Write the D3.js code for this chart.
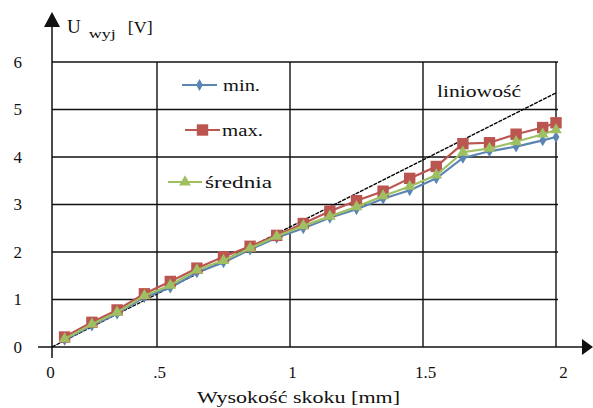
<!DOCTYPE html>
<html>
<head>
<meta charset="utf-8">
<script src="https://cdn.jsdelivr.net/npm/d3@7"></script>
<style>
  body { margin: 0; background: #fff; }
  svg { display: block; }
  text { font-family: "Liberation Serif", "DejaVu Serif", "Times New Roman", serif; fill: #111; }
</style>
</head>
<body>
<svg id="chart" width="593" height="408"></svg>
<script>
// dane
var xs = [0.06, 0.19, 0.31, 0.44, 0.55, 0.65, 0.75, 0.85, 0.95, 1.05,
          1.15, 1.25, 1.35, 1.45, 1.55, 1.65, 1.75, 1.85, 1.95, 2.0];
var minVals = [0.15, 0.45, 0.70, 1.05, 1.25, 1.57, 1.78, 2.05, 2.30, 2.50,
               2.72, 2.90, 3.12, 3.30, 3.55, 3.98, 4.12, 4.22, 4.35, 4.42];
var maxVals = [0.21, 0.52, 0.78, 1.12, 1.38, 1.66, 1.90, 2.12, 2.35, 2.60,
               2.86, 3.08, 3.28, 3.55, 3.80, 4.28, 4.30, 4.48, 4.62, 4.72];
var meanVals = [0.17, 0.48, 0.73, 1.08, 1.30, 1.62, 1.82, 2.08, 2.33, 2.55,
                2.75, 2.95, 3.18, 3.38, 3.62, 4.10, 4.18, 4.32, 4.48, 4.57];
var linX = [0, 2];
var linY = [0, 5.35];
var xTicks = [0, 0.5, 1, 1.5, 2];
var xTickLabels = ["0", ".5", "1", "1.5", "2"];
var yTicks = [0, 1, 2, 3, 4, 5, 6];
var seriesNames = ["min.", "max.", "średnia"];

var FONT = '"Liberation Serif", "DejaVu Serif", "Times New Roman", serif';
var svg = d3.select("#chart");

// oś x ma krótszy pierwszy odcinek (jak na oryginale)
var x = d3.scaleLinear().domain([0, 0.5, 2]).range([52, 157, 556]);
var y = d3.scaleLinear().domain([0, 6]).range([347, 62]);

// siatka
svg.append("g")
    .selectAll("line")
    .data(yTicks.slice(1))
    .join("line")
    .attr("x1", x(0))
    .attr("x2", x(2) + 2)
    .attr("y1", d => y(d))
    .attr("y2", d => y(d))
    .attr("stroke", "#111")
    .attr("stroke-width", 1.4);

svg.append("g")
    .selectAll("line")
    .data(xTicks.slice(1))
    .join("line")
    .attr("x1", d => x(d))
    .attr("x2", d => x(d))
    .attr("y1", y(6))
    .attr("y2", y(0))
    .attr("stroke", "#111")
    .attr("stroke-width", 1.4);

// osie ze strzałkami
svg.append("line")
    .attr("x1", 38).attr("x2", 584)
    .attr("y1", y(0)).attr("y2", y(0))
    .attr("stroke", "#111").attr("stroke-width", 1.5);
svg.append("path")
    .attr("d", "M582," + (y(0) - 8) + "L593," + y(0) + "L582," + (y(0) + 8) + "Z")
    .attr("fill", "#111");

svg.append("line")
    .attr("x1", x(0)).attr("x2", x(0))
    .attr("y1", 24).attr("y2", 358)
    .attr("stroke", "#111").attr("stroke-width", 1.5);
svg.append("path")
    .attr("d", "M" + (x(0) - 8) + ",27L" + x(0) + ",12L" + (x(0) + 8) + ",27Z")
    .attr("fill", "#111");

// etykiety osi
var yAxis = svg.append("g")
    .attr("transform", "translate(" + x(0) + ",0)")
    .call(d3.axisLeft(y).tickValues(yTicks).tickFormat(d3.format("d")).tickSize(0).tickPadding(30));
yAxis.attr("font-family", FONT).attr("font-size", 17);
yAxis.select(".domain").remove();
yAxis.selectAll("text").attr("fill", "#111");

var xAxis = svg.append("g")
    .attr("transform", "translate(0," + y(0) + ")")
    .call(d3.axisBottom(x).tickValues(xTicks).tickFormat((d, i) => xTickLabels[i]).tickSize(0).tickPadding(19));
xAxis.attr("font-family", FONT).attr("font-size", 17);
xAxis.select(".domain").remove();
xAxis.selectAll("text")
    .attr("fill", "#111")
    .attr("dx", d => d === 0 ? -2 : (d === 2 ? 7 : 2));

svg.append("text")
    .attr("x", 197).attr("y", 403)
    .attr("textLength", 203)
    .attr("lengthAdjust", "spacingAndGlyphs")
    .style("font-size", "17px")
    .text("Wysokość skoku [mm]");

var yt = svg.append("text").attr("x", 67).attr("y", 33);
yt.append("tspan").style("font-size", "19px").attr("textLength", 12).text("U");
yt.append("tspan").attr("dx", 8).attr("dy", 5).style("font-size", "13px")
    .attr("textLength", 27).attr("lengthAdjust", "spacingAndGlyphs").text("wyj");
yt.append("tspan").attr("dx", 12).attr("dy", -5).style("font-size", "17px")
    .attr("textLength", 25).attr("lengthAdjust", "spacingAndGlyphs").text("[V]");

// linia liniowości
svg.append("line")
    .attr("x1", x(linX[0])).attr("y1", y(linY[0]))
    .attr("x2", x(linX[1])).attr("y2", y(linY[1]))
    .attr("stroke", "#000")
    .attr("stroke-width", 1.3)
    .attr("stroke-dasharray", "4,1");

svg.append("text")
    .attr("x", 437).attr("y", 97)
    .attr("textLength", 84)
    .attr("lengthAdjust", "spacingAndGlyphs")
    .style("font-size", "17px")
    .text("liniowość");

// serie
var series = [
    { name: seriesNames[0], vals: minVals, color: "#5b85b3", sym: d3.symbolDiamond, size: 40, tl: 37 },
    { name: seriesNames[1], vals: maxVals, color: "#bb5550", sym: d3.symbolSquare, size: 130, tl: 41 },
    { name: seriesNames[2], vals: meanVals, color: "#9fc062", sym: d3.symbolTriangle, size: 60, tl: 67 }
];

var line = d3.line()
    .x((d, i) => x(xs[i]))
    .y(d => y(d));

series.forEach(function (s) {
    var g = svg.append("g");
    g.append("path")
        .attr("d", line(s.vals))
        .attr("fill", "none")
        .attr("stroke", s.color)
        .attr("stroke-width", 2.2);
    g.selectAll("path.pt")
        .data(s.vals)
        .join("path")
        .attr("class", "pt")
        .attr("transform", (d, i) => "translate(" + x(xs[i]) + "," + y(d) + ")")
        .attr("d", d3.symbol().type(s.sym).size(s.size))
        .attr("fill", s.color);
});

// legenda
var legendPos = [
    { x1: 182, x2: 217, ty: 91, tx: 223 },
    { x1: 185, x2: 220, ty: 136, tx: 222 },
    { x1: 168, x2: 202, ty: 188, tx: 205 }
];
series.forEach(function (s, i) {
    var p = legendPos[i];
    var ly = p.ty - 6;
    svg.append("line")
        .attr("x1", p.x1).attr("x2", p.x2)
        .attr("y1", ly).attr("y2", ly)
        .attr("stroke", s.color).attr("stroke-width", 2.2);
    svg.append("path")
        .attr("transform", "translate(" + ((p.x1 + p.x2) / 2) + "," + ly + ")")
        .attr("d", d3.symbol().type(s.sym).size(s.size))
        .attr("fill", s.color);
    svg.append("text")
        .attr("x", p.tx).attr("y", p.ty)
        .attr("textLength", s.tl)
        .attr("lengthAdjust", "spacingAndGlyphs")
        .style("font-size", "17px")
        .text(s.name);
});
</script>
</body>
</html>
